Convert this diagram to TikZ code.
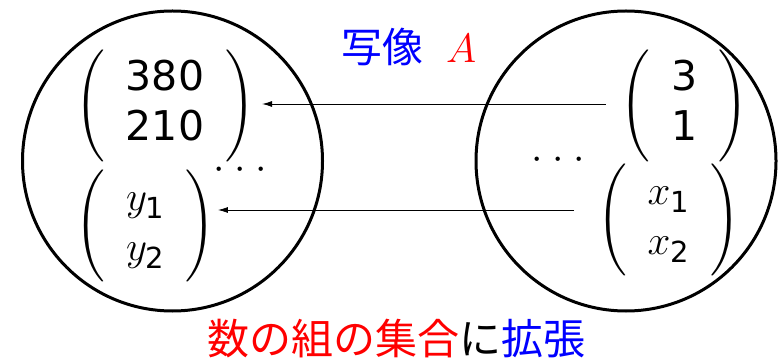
\documentclass[tikz,border=0pt]{standalone}
\usepackage{fix-cm}
\usepackage{amsmath}
\DeclareFontShape{OMX}{cmex}{m}{n}{<-8>cmex7<8>cmex8<9>cmex9<9.5->cmex10}{}
\usepackage{fontspec}
\usetikzlibrary{arrows.meta}
\newfontfamily\jp{Noto Sans CJK JP}
\newfontfamily\dv{DejaVu Sans}
\definecolor{pblue}{RGB}{0,0,255}
\definecolor{pred}{RGB}{255,0,0}
\newcommand\sn[1]{\mbox{\dv #1}}
\newcommand\vs[2]{#1_{\mbox{\fontsize{29}{30}\selectfont\dv #2}}}
\newcommand\lpar{\vcenter{\hbox{\fontsize{37.3}{40}\selectfont$\mathchar"0320$}}}
\newcommand\rpar{\vcenter{\hbox{\fontsize{37.3}{40}\selectfont$\mathchar"0321$}}}
\newcommand\colvec[2]{\lpar\hspace{21pt}%
  \begin{array}{@{}c@{}}#1\\#2\end{array}%
  \hspace{21pt}\rpar}
\tikzset{
  ring/.style={circle,draw,line width=3pt,minimum size=300pt,inner sep=0pt},
  vec/.style={inner sep=0pt,outer sep=0pt,font=\fontsize{41}{50}\selectfont},
  arr/.style={-{Latex[length=10pt,width=6pt]},line width=0.8pt},
  big/.style={inner sep=0pt,outer sep=0pt,font=\fontsize{41}{50}\selectfont},
  label/.style={inner sep=0pt,outer sep=0pt}
}
\begin{document}
\begin{tikzpicture}[x=1pt,y=-1pt]
\useasboundingbox (0,0) rectangle (778,363);
\node[ring] (C1) at (172.5,161) {};
\node[ring] (C2) at (626,161) {};
\node[vec] (L1) at (165,106) {$\colvec{\sn{380}}{\sn{210}}$};
\node[vec] (L2) at (145.5,226) {$\colvec{\vs{y}{1}}{\vs{y}{2}}$};
\node[vec] (R1) at (684.5,106) {$\colvec{\sn{3}}{\sn{1}}$};
\node[vec] (R2) at (668.5,220) {$\colvec{\vs{x}{1}}{\vs{x}{2}}$};
\node[big,anchor=base] (D1) at (240,180) {$\cdotp\hspace{3pt}\cdotp\hspace{3pt}\cdotp$};
\node[big,anchor=base] (D2) at (558,170) {$\cdotp\hspace{3pt}\cdotp\hspace{3pt}\cdotp$};
\draw[arr,shorten <=15pt,shorten >=7.5pt] (R1.west |- 0,104) -- (L1.east |- 0,104);
\draw[arr,shorten <=23pt,shorten >=2.7pt] (R2.west |- 0,210) -- (L2.east |- 0,210);
\node[label,anchor=base west,font=\fontsize{41}{50}\selectfont] (T) at (341,63)
  {{\jp\color{pblue}写像}\hspace{23pt}{\color{pred}$A$}};
\node[label,anchor=base west,font=\fontsize{42}{50}\selectfont] (B) at (207,354)
  {\jp{\color{pred}数の組の集合}に{\color{pblue}拡張}};
\end{tikzpicture}
\end{document}
